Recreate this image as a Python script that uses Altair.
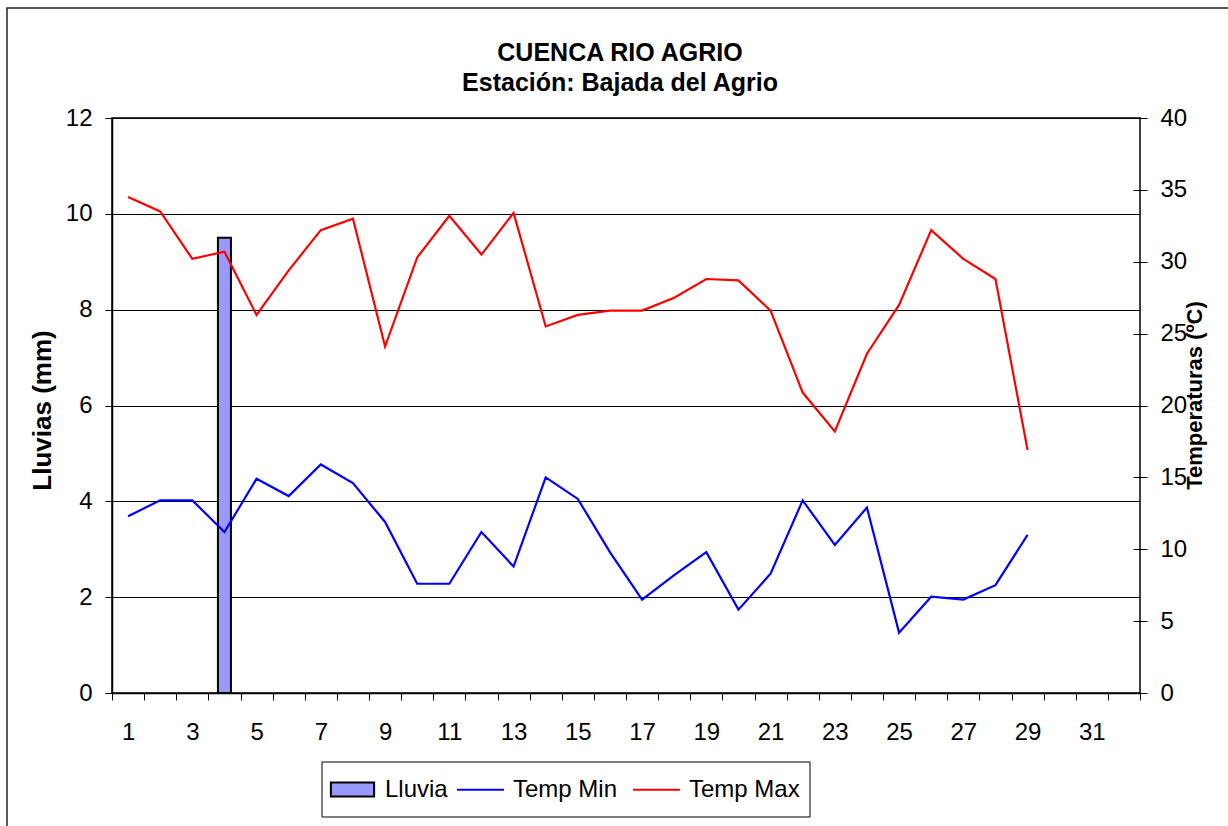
import altair as alt
import pandas as pd

# Daily values, days 1..29
dias = list(range(1, 30))
lluvia = [0, 0, 0, 9.5, 0, 0, 0, 0, 0, 0,
          0, 0, 0, 0, 0, 0, 0, 0, 0, 0,
          0, 0, 0, 0, 0, 0, 0, 0, 0]
temp_min = [12.3, 13.4, 13.4, 11.2, 14.9, 13.7, 15.9, 14.6, 11.9, 7.6,
            7.6, 11.2, 8.8, 15.0, 13.5, 9.8, 6.5, 8.2, 9.8, 5.8,
            8.3, 13.4, 10.3, 12.9, 4.2, 6.7, 6.5, 7.5, 11.0]
temp_max = [34.5, 33.5, 30.2, 30.7, 26.3, 29.4, 32.2, 33.0, 24.1, 30.3,
            33.2, 30.5, 33.4, 25.5, 26.3, 26.6, 26.6, 27.5, 28.8, 28.7,
            26.6, 20.9, 18.2, 23.6, 27.0, 32.2, 30.2, 28.8, 16.9]

serie_lluvia = ["Lluvia"]
color_lluvia = ["#9999FF"]
series_temp = ["Temp Min", "Temp Max"]
colores_temp = ["#0000FF", "#FF0000"]

FONT = "Liberation Sans"

rain_df = pd.DataFrame({"dia": dias, "serie": "Lluvia", "valor": lluvia})
temp_df = pd.concat([
    pd.DataFrame({"dia": dias, "serie": "Temp Min", "valor": temp_min}),
    pd.DataFrame({"dia": dias, "serie": "Temp Max", "valor": temp_max}),
], ignore_index=True)

# category slots 1..32: ticks on slot boundaries, labels on odd days
x_vals = [i / 2 for i in range(1, 66)]

x_enc = alt.X(
    "dia:Q",
    scale=alt.Scale(domain=[0.5, 32.5], nice=False, zero=False, padding=0),
    axis=alt.Axis(
        title=None, values=x_vals,
        labelExpr="datum.value % 2 == 1 ? ('' + datum.value) : ''",
        tickOpacity={"condition": {"test": "datum.value % 1 == 0", "value": 0}, "value": 1},
        tickSize=7, tickColor="black", tickWidth=1,
        domainColor="black", domainWidth=1.5,
        labelFontSize=24, labelPadding=20, labelOverlap=False,
        labelBound=False, labelFlush=False, grid=False,
    ),
)

legend_common = dict(
    title=None, orient="none", direction="horizontal", padding=0,
    labelFontSize=24, labelFont=FONT, labelColor="black",
    symbolSize=2209, symbolStrokeWidth=2, labelOffset=8, columnPadding=11,
)

# outer chart frame and legend box
frame = alt.Chart(pd.DataFrame({"k": [0]})).mark_rect(
    fillOpacity=0, stroke="#222222", strokeWidth=1.5
).encode(
    x=alt.value(-105), x2=alt.value(1200), y=alt.value(-110), y2=alt.value(800)
)
legend_box = alt.Chart(pd.DataFrame({"k": [0]})).mark_rect(
    fill="white", stroke="black", strokeWidth=1
).encode(
    x=alt.value(210), x2=alt.value(698), y=alt.value(644), y2=alt.value(699)
)

bars = alt.Chart(rain_df).transform_filter("datum.valor > 0").mark_bar(
    size=13, stroke="black", strokeWidth=2
).encode(
    x=x_enc,
    y=alt.Y(
        "valor:Q",
        scale=alt.Scale(domain=[0, 12], nice=False),
        axis=alt.Axis(
            title="Lluvias (mm)", values=list(range(0, 13, 2)),
            grid=True, gridColor="black", gridWidth=1,
            tickSize=7, tickColor="black", domainColor="black", domainWidth=1.5,
            labelFontSize=24, labelPadding=13,
            titleFontSize=26, titleFontWeight="bold",
            titleAngle=270, titleX=-70, titleY=292, titleBaseline="middle",
        ),
    ),
    fill=alt.Fill(
        "serie:N", scale=alt.Scale(domain=serie_lluvia, range=color_lluvia),
        legend=alt.Legend(
            legendX=216, legendY=647,
            symbolType="M-0.92,-0.3H0.92V0.3H-0.92Z", symbolStrokeColor="black",
            **legend_common,
        ),
    ),
)

lines = alt.Chart(temp_df).mark_line(strokeWidth=2.2).encode(
    x=x_enc,
    y=alt.Y(
        "valor:Q",
        scale=alt.Scale(domain=[0, 40], nice=False),
        axis=alt.Axis(
            title="Temperaturas (ºC)", orient="right", values=list(range(0, 41, 5)),
            grid=False, offset=-7, domain=False,
            tickSize=14, tickColor="black",
            labelFontSize=24, labelPadding=13,
            titleFontSize=22, titleFontWeight="bold",
            titleAngle=270, titleX=61, titleY=277, titleBaseline="middle",
        ),
    ),
    stroke=alt.Stroke(
        "serie:N", scale=alt.Scale(domain=series_temp, range=colores_temp),
        legend=alt.Legend(
            legendX=344, legendY=647, symbolType="stroke",
            **legend_common,
        ),
    ),
)

chart = alt.layer(frame, legend_box, bars, lines).resolve_scale(y="independent").properties(
    width=1028, height=575,
    autosize=alt.AutoSizeParams(type="none"),
    padding={"left": 112, "top": 118, "right": 88, "bottom": 133},
    background="white",
    title=alt.TitleParams(
        text=["CUENCA RIO AGRIO", "Estación: Bajada del Agrio"],
        fontSize=25, fontWeight="bold", font=FONT, color="black",
        anchor="middle", lineHeight=30, offset=24, dx=-6, dy=113,
    ),
).configure_view(
    stroke="black", strokeWidth=1.5
).configure_axis(
    labelFont=FONT, titleFont=FONT, labelColor="black", titleColor="black"
)

chart.save("out.html", embed_options={"renderer": "svg", "actions": False})
